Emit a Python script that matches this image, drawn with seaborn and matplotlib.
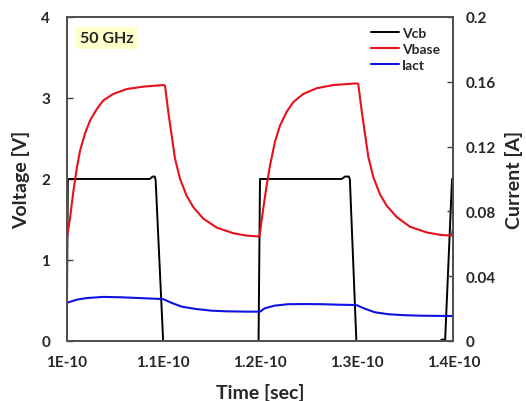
import numpy as np
import pandas as pd
import matplotlib
matplotlib.use("Agg")
import matplotlib.pyplot as plt
import seaborn as sns

# --- Data (time in ps after 1E-10 s) ---
vcb_t = [0.0, 0.12, 8.6, 8.9, 9.1, 9.2, 9.98, 19.8, 19.85, 20.0,
         28.45, 28.8, 29.2, 29.3, 29.97, 38.6, 38.9, 39.15, 39.87, 40.0]
vcb_v = [0.0, 2.0, 2.0, 2.03, 2.03, 1.99, 0.0, 0.0, 0.0, 2.0,
         2.0, 2.03, 2.03, 1.99, 0.0, 0.0, 0.02, 0.0, 2.0, 2.0]

vbase_t = [0.0, 0.34, 0.68, 1.03, 1.38, 1.89, 2.41, 3.10, 3.79, 4.82, 6.20, 7.93, 10.05,
           10.17, 10.52, 10.87, 11.21, 11.73, 12.42, 13.11, 14.14, 15.52, 17.24, 18.64, 19.95,
           20.34, 20.69, 21.04, 21.55, 22.07, 22.76, 23.45, 24.48, 25.86, 27.59, 30.05,
           30.17, 30.52, 30.87, 31.21, 31.73, 32.42, 33.11, 34.14, 35.52, 37.24, 38.64, 39.85, 40.0]
vbase_v = [1.26, 1.51, 1.84, 2.12, 2.35, 2.56, 2.72, 2.86, 2.97, 3.05, 3.11, 3.14, 3.16,
           3.15, 2.82, 2.53, 2.25, 2.00, 1.79, 1.65, 1.51, 1.40, 1.33, 1.30, 1.29,
           1.64, 1.92, 2.17, 2.46, 2.66, 2.83, 2.95, 3.05, 3.12, 3.16, 3.18,
           3.17, 2.84, 2.55, 2.27, 2.02, 1.81, 1.67, 1.53, 1.41, 1.34, 1.31, 1.30, 1.42]

iact_t = [0.0, 1.03, 2.07, 3.79, 5.5, 7.9, 9.83, 10.0, 10.86, 11.9, 13.3, 15.0, 16.6, 18.7, 20.0,
          20.5, 21.5, 22.9, 24.6, 26.4, 28.1, 29.8, 30.0, 30.9, 31.9, 33.3, 35.0, 36.7, 40.0]
iact_a = [0.0235, 0.0255, 0.0265, 0.0272, 0.0270, 0.0264, 0.0259, 0.0258, 0.0235, 0.0212, 0.0198,
          0.0187, 0.0183, 0.0181, 0.0181, 0.0202, 0.0218, 0.0227, 0.0228, 0.0227, 0.0224, 0.0222,
          0.0221, 0.0198, 0.0177, 0.0165, 0.0159, 0.0156, 0.0154]

x_ticks = [1.0e-10, 1.1e-10, 1.2e-10, 1.3e-10, 1.4e-10]
x_labels = ["1E-10", "1.1E-10", "1.2E-10", "1.3E-10", "1.4E-10"]
v_ticks = [0, 1, 2, 3, 4]
i_ticks = [0, 0.04, 0.08, 0.12, 0.16, 0.2]
i_labels = ["0", "0.04", "0.08", "0.12", "0.16", "0.2"]

df_vcb = pd.DataFrame({"t": 1e-10 + np.array(vcb_t) * 1e-12, "v": vcb_v})
df_vbase = pd.DataFrame({"t": 1e-10 + np.array(vbase_t) * 1e-12, "v": vbase_v})
df_iact = pd.DataFrame({"t": 1e-10 + np.array(iact_t) * 1e-12, "i": iact_a})

# --- Plotting ---
sns.set_style("white")
plt.rcParams['font.family'] = ['Lato', 'DejaVu Sans']
plt.rcParams['font.weight'] = 'bold'

fig = plt.figure(figsize=(5.26, 4.02), dpi=100)
ax = fig.add_axes([0.1268, 0.1493, 0.735, 0.806])
ax2 = ax.twinx()

sns.lineplot(data=df_vcb, x="t", y="v", color="black", lw=1.4, label="Vcb", ax=ax)
sns.lineplot(data=df_vbase, x="t", y="v", color="#e8101a", lw=1.5, label="Vbase", ax=ax)
sns.lineplot(data=df_iact, x="t", y="i", color="#1010e0", lw=1.5, label="Iact", ax=ax2)

ax.set_xlim(1.0e-10, 1.4e-10)
ax.set_ylim(0, 4)
ax2.set_ylim(0, 0.2)
ax.set_xticks(x_ticks)
ax.set_xticklabels(x_labels)
ax.set_yticks(v_ticks)
ax2.set_yticks(i_ticks)
ax2.set_yticklabels(i_labels)

for a in (ax, ax2):
    a.tick_params(direction="in", length=4, width=1, color="#404040",
                  labelsize=11, pad=12)
    for s in a.spines.values():
        s.set_color("#505050")
        s.set_linewidth(1.3)
ax.tick_params(axis="x", pad=10)
ax2.tick_params(axis="y", pad=9)

ax.set_xlabel("Time [sec]", fontsize=14, fontweight="bold", labelpad=10)
ax.set_ylabel("Voltage [V]", fontsize=14, fontweight="bold", labelpad=8)
ax2.set_ylabel("Current [A]", fontsize=14, fontweight="bold", labelpad=6)

ax.get_legend().remove()
h1, l1 = ax.get_legend_handles_labels()
h2, l2 = ax2.get_legend_handles_labels()
ax2.legend(h1 + h2, l1 + l2, loc="upper right", frameon=False, fontsize=10,
           handlelength=2.0, handletextpad=0.2, labelspacing=0.3,
           borderaxespad=0.3, bbox_to_anchor=(0.99, 1.0))

ax.text(0.035, 0.935, "50 GHz", transform=ax.transAxes, fontsize=11.5,
        fontweight="bold", va="center", ha="left",
        bbox=dict(boxstyle="square,pad=0.25", facecolor="#ffffcc", edgecolor="none"))

fig.savefig("out.png", dpi=100)
